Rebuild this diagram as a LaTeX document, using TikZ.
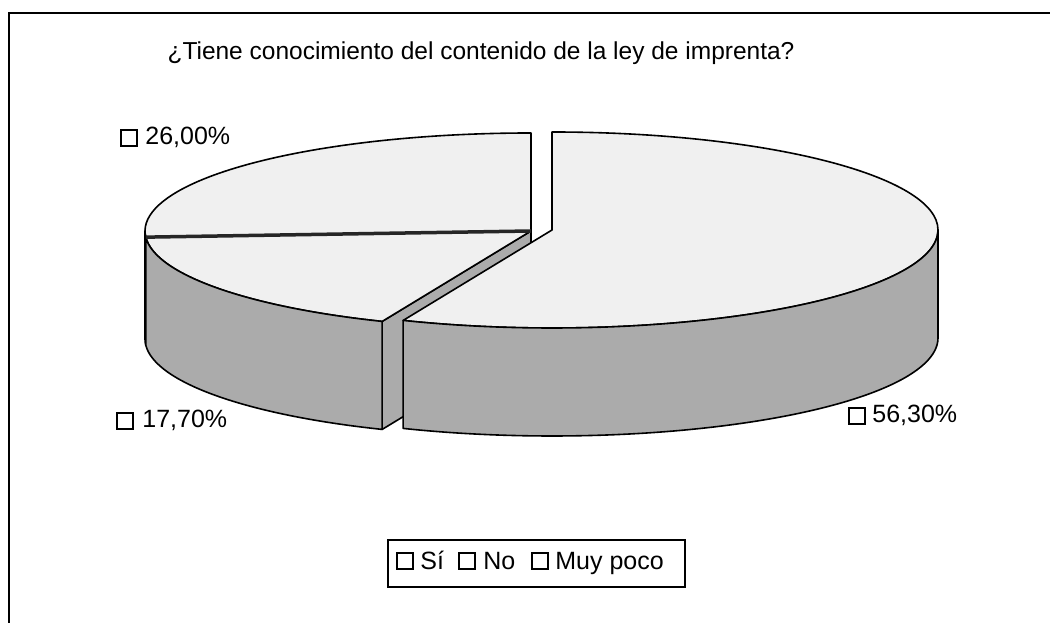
\documentclass[tikz,border=0pt]{standalone}
\usepackage{fontspec}
\setmainfont{Liberation Sans}
\usetikzlibrary{positioning,calc}

\newcommand{\pierx}{386pt}
\newcommand{\piery}{98pt}

\begin{document}
\begin{tikzpicture}[
    x=1pt, y=1pt,
    thick,
    slicetop/.style={
        draw=black,
        line width=1.6pt,
        fill=black!6,
        line join=round
    },
    slicewall/.style={
        draw=black,
        line width=1.6pt,
        fill=black!33,
        line join=round
    },
    swatch/.style={rectangle, draw=black, line width=1.8pt, fill=white, minimum size=16pt, inner sep=0pt},
    pct/.style={font=\fontsize{25}{30}\selectfont, inner sep=0pt, anchor=base west},
    legendbox/.style={rectangle, draw=black, line width=1.3pt, minimum width=297pt, minimum height=47pt}
]
    \useasboundingbox (0,0) rectangle (1050,623);

    % Frame
    \coordinate (framebl) at (9,-5);
    \coordinate (frametr) at (1055,610);
    \draw[line width=1.6pt] (framebl) |- (frametr);

    % Title
    \node[font=\fontsize{24.5}{29}\selectfont, inner sep=0pt, anchor=base] (title) at (481,563)
        {¿Tiene conocimiento del contenido de la ley de imprenta?};

    % Pie centres
    \coordinate (mid) at (531,392);
    \coordinate (si) at (552,393);

    % Muy poco
    \draw[slicetop] (mid) -- ($(mid)+(90:386pt and 98pt)$)
        arc[start angle=90, end angle=183.6, x radius=\pierx, y radius=\piery] -- cycle;
    \draw[slicewall] ($(mid)+(180:386pt and 98pt)$)
        arc[start angle=180, end angle=183.6, x radius=\pierx, y radius=\piery] -- ++(0,-108)
        arc[start angle=183.6, end angle=180, x radius=\pierx, y radius=\piery] -- cycle;

    % No
    \draw[slicewall] (mid) -- ($(mid)+(247.32:386pt and 98pt)$) -- ++(0,-108)
        -- ($(mid)+(0,-108)$) -- cycle;
    \draw[slicetop] (mid) -- ($(mid)+(183.6:386pt and 98pt)$)
        arc[start angle=183.6, end angle=247.32, x radius=\pierx, y radius=\piery] -- cycle;
    \draw[slicewall] ($(mid)+(183.6:386pt and 98pt)$)
        arc[start angle=183.6, end angle=247.32, x radius=\pierx, y radius=\piery] -- ++(0,-108)
        arc[start angle=247.32, end angle=183.6, x radius=\pierx, y radius=\piery] -- cycle;
    \draw[line width=3.5pt, black!85] (mid) -- ($(mid)+(183.6:386pt and 98pt)$);

    % Si
    \draw[slicetop] (si) -- ($(si)+(90:386pt and 98pt)$)
        arc[start angle=90, end angle=-112.68, x radius=\pierx, y radius=\piery] -- cycle;
    \draw[slicewall] ($(si)+(-112.68:386pt and 98pt)$)
        arc[start angle=-112.68, end angle=0, x radius=\pierx, y radius=\piery] -- ++(0,-108)
        arc[start angle=0, end angle=-112.68, x radius=\pierx, y radius=\piery] -- cycle;

    % Data labels
    \node[pct] (lblmuy) at (145,478) {26,00\%};
    \node[swatch, left=7pt of lblmuy] (sqmuy) {};
    \node[pct] (lblno) at (142,195) {17,70\%};
    \node[swatch, left=8pt of lblno] (sqno) {};
    \node[pct] (lblsi) at (872,200) {56,30\%};
    \node[swatch, left=6pt of lblsi] (sqsi) {};

    % Legend
    \node[legendbox] (legend) at (536.5,59.5) {};
    \node[pct] (legsi) at (420,53) {Sí};
    \node[pct] (legno) at (483,53) {No};
    \node[pct] (legmuy) at (555,53) {Muy poco};
    \node[swatch] (legsqsi) at (405,62) {};
    \node[swatch] (legsqno) at (467,62) {};
    \node[swatch] (legsqmuy) at (540,62) {};
\end{tikzpicture}
\end{document}
